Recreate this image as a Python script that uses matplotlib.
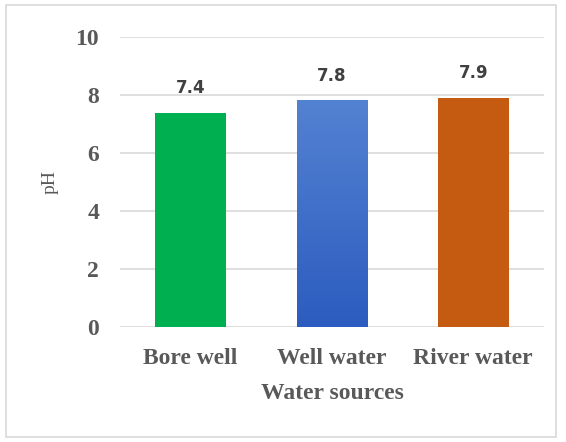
import matplotlib
matplotlib.use("Agg")
import matplotlib.pyplot as plt
import numpy as np
from matplotlib.patches import Rectangle
from matplotlib.colors import LinearSegmentedColormap

categories = ["Bore well", "Well water", "River water"]
values = [7.4, 7.8, 7.9]
value_labels = ["7.4", "7.8", "7.9"]
yticks = [0, 2, 4, 6, 8, 10]
colors = ["#00B050", "#3F6FCB", "#C55A11"]

fig = plt.figure(figsize=(5.66, 4.42), dpi=100)
fig.patches.append(Rectangle((0.011, 0.011), 0.972, 0.977, transform=fig.transFigure,
                             fill=False, edgecolor="#D9D9D9", linewidth=1.2))
ax = fig.add_axes([0.212, 0.260, 0.749, 0.656])
x = np.arange(len(categories))
bars = ax.bar(x, values, width=0.5, color=colors, zorder=3)

# gradient for the blue bar
b = bars[1]
grad = np.linspace(0, 1, 256).reshape(-1, 1)
cmap = LinearSegmentedColormap.from_list("bl", ["#2C5CBF", "#5382D2"])
ax.imshow(grad, cmap=cmap, aspect="auto", origin="lower",
          extent=[b.get_x(), b.get_x() + b.get_width(), 0, b.get_height()], zorder=4)
b.set_facecolor("none")

ax.set_xlim(-0.5, 2.5)
ax.set_ylim(0, 10)
ax.set_yticks(yticks)
ax.grid(axis="y", color="#D9D9D9", linewidth=1.2, zorder=0)
for s in ax.spines.values():
    s.set_visible(False)
ax.tick_params(length=0)
ax.tick_params(axis="y", pad=15)
ax.tick_params(axis="x", pad=15)
ax.set_xticks(x)
ax.set_xticklabels(categories, fontfamily="Liberation Serif", fontweight="bold",
                   fontsize=17, color="#595959")
for lab in ax.get_yticklabels():
    lab.set_fontfamily("Liberation Serif")
    lab.set_fontweight("bold")
    lab.set_fontsize(17)
    lab.set_color("#595959")

for xi, v, t in zip(x, values, value_labels):
    ax.text(xi, v + 0.55, t, ha="center", va="bottom", fontfamily="DejaVu Sans",
            fontweight="bold", fontsize=12, color="#404040")

ax.set_ylabel("pH", fontfamily="Liberation Serif", fontsize=14, color="#595959", labelpad=12)
ax.set_xlabel("Water sources", fontfamily="Liberation Serif", fontweight="bold",
              fontsize=17, color="#595959", labelpad=10)

fig.savefig("out.png", dpi=100)
